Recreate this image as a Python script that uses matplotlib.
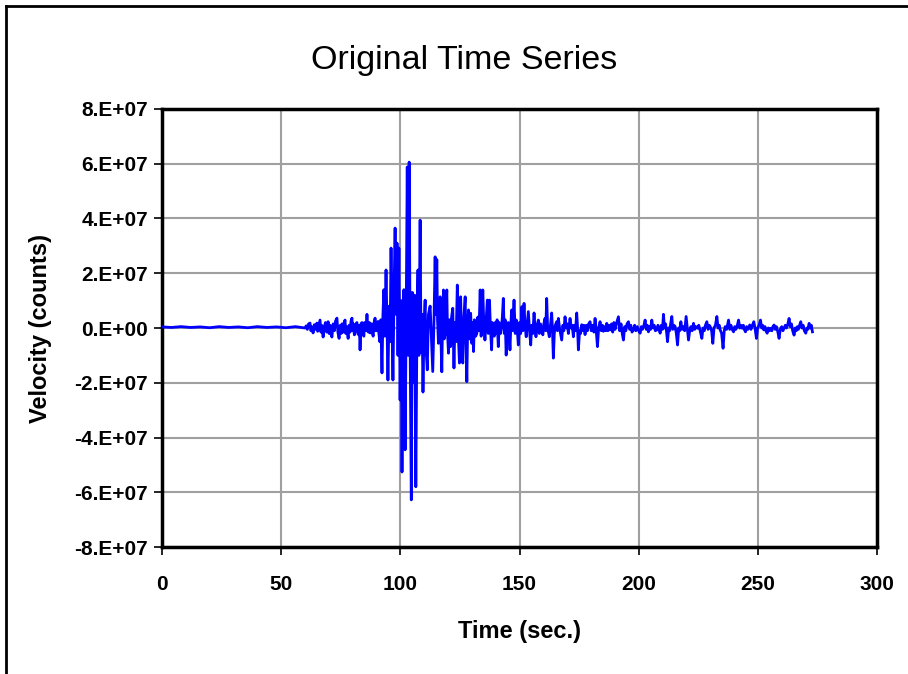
import matplotlib
matplotlib.use("Agg")
import matplotlib.pyplot as plt
from matplotlib.lines import Line2D

# ── data: (time s, velocity in 1e6 counts) ────────────────────────────────
quiet = [(0, 0.4), (4, 0.2), (8, 0.5), (12, 0.2), (16, 0.4), (20, 0.1), (24, 0.5),
         (28, 0.2), (32, 0.4), (36, 0.1), (40, 0.5), (44, 0.2), (48, 0.4),
         (52, 0.1), (56, 0.5)]

onset = [(60.0, 0.0), (60.5, 0.8), (61.0, -0.5), (61.5, 1.5), (62.1, 1.8), (62.5, -1.0),
         (62.8, 0.5), (63.4, -1.8), (63.9, 1.2), (64.5, -0.5), (65.0, 1.8), (65.3, -1.2),
         (65.8, 0.8), (66.3, 2.9), (66.7, -1.5), (67.0, 1.0), (67.6, -3.3), (68.1, 0.5),
         (68.6, 2.0), (69.1, -1.5), (69.7, 2.3), (70.1, -2.0), (70.5, 1.0), (71.0, -2.5),
         (71.3, -3.3), (71.8, 1.5), (72.3, -1.0), (72.8, 2.5), (73.4, 3.6), (73.8, -1.5),
         (74.3, -3.8), (74.8, 1.0), (75.2, -2.0), (75.5, 1.5), (76.0, -1.5), (76.4, 2.0),
         (76.8, 2.9), (77.1, -2.0), (77.4, 0.5), (78.1, -3.8), (78.5, 1.0), (78.9, -1.5),
         (79.3, 2.5), (79.7, 3.6), (80.0, -1.0), (80.3, 1.5), (80.7, -2.5), (81.0, -2.2),
         (81.4, 1.5), (81.8, 2.0), (82.1, -1.0), (82.5, -2.5), (82.8, 1.0), (83.1, -8.0),
         (83.5, 1.5), (83.9, 2.0), (84.3, -2.0), (84.7, -3.0), (85.0, 2.0), (85.3, 1.0),
         (85.7, -1.0), (86.0, 5.0), (86.3, -1.0), (86.6, -1.5), (87.0, 2.0), (87.3, -1.8),
         (87.7, 1.5), (88.0, 1.5), (88.3, -2.0), (88.6, -3.0), (89.0, 2.0), (89.4, 3.6),
         (89.7, -1.0), (90.0, -1.0), (90.3, 2.0), (90.6, 2.4), (91.0, -2.0), (91.4, -5.0),
         (91.8, 3.0)]

burst = [(92.3, -16.4), (92.7, 5.0), (93.1, 14.0), (93.5, -3.0), (94.0, 21.2), (94.4, 0.0),
         (94.8, -19.0), (95.3, 8.0), (95.7, -5.0), (96.1, 29.2), (96.5, 2.0), (96.9, -19.0),
         (97.4, 15.0), (97.8, 36.5), (98.2, 5.0), (98.6, 31.0), (99.0, -10.0), (99.4, 29.2),
         (99.9, -26.3), (100.3, 10.0), (100.7, -52.6), (101.1, 3.0), (101.5, 14.0),
         (102.0, -44.5), (102.5, 10.0), (102.9, 58.8), (103.3, -10.0), (103.7, 60.6),
         (104.1, -5.0), (104.6, -62.8), (105.0, 13.0), (105.5, -20.0), (106.0, 12.0),
         (106.5, -58.0), (107.0, 5.0), (107.4, 21.2), (107.8, -10.0), (108.3, 39.4),
         (108.7, -9.0), (109.1, 5.0), (109.5, -23.4), (110.0, 3.0), (110.4, 10.2),
         (110.8, -8.0), (111.3, -15.3), (111.8, 5.0), (112.5, 8.0)]

coda = [(113.6, -15.9), (114.1, 2.0), (114.6, 26.0), (114.9, 5.0), (115.3, 25.0), (115.6, 3.0),
        (116.0, -5.6), (116.3, 4.0), (116.7, 11.4), (117.0, -3.0), (117.4, -16.0), (117.7, 2.0),
        (118.1, 13.9), (118.4, -4.0), (118.8, -2.0), (119.1, 6.0), (119.5, 13.9), (119.8, -2.0),
        (120.2, -9.2), (120.6, 3.0), (121.1, -6.8), (121.5, 4.0), (122.0, 7.2), (122.5, -14.6),
        (122.9, 2.0), (123.4, -5.0), (123.9, 15.7), (124.3, -2.0), (124.8, -12.8), (125.3, 11.4),
        (125.7, -4.0), (126.2, -12.8), (126.6, 3.0), (127.2, 11.4), (127.5, -3.0), (127.9, -19.6),
        (128.2, -2.0), (128.6, 6.6), (129.0, -4.0), (129.5, 5.4), (130.0, -5.6), (130.3, 2.0),
        (130.7, -8.6), (131.1, 3.0), (131.6, -3.0), (132.1, -2.0), (132.5, 4.0), (133.0, -1.0),
        (133.5, 13.9), (133.9, -3.0), (134.2, 4.0), (134.6, 13.9), (135.0, 2.0), (135.5, -4.4),
        (136.0, 3.0), (136.5, 10.2), (136.9, -2.0), (137.4, 10.2), (137.8, 0.0), (138.3, -8.0),
        (138.6, 2.0), (139.0, 0.5), (139.4, -3.0), (139.8, 2.0), (140.2, -2.0), (140.6, 3.0),
        (141.1, -6.8), (141.5, 2.0), (142.0, -2.0), (142.5, 0.5), (142.8, 4.0), (143.2, 10.8),
        (143.6, -2.0), (144.0, 3.0), (144.4, -9.9), (144.8, -1.0), (145.3, 2.0), (145.7, -3.0),
        (146.0, -8.0), (146.4, 2.0), (146.7, 6.6), (147.1, -1.0), (147.7, 10.2), (148.2, -2.0),
        (148.7, 2.9), (149.1, -1.0), (149.5, -6.2), (150.0, 2.0), (150.5, -2.0), (151.0, 7.8),
        (151.4, -1.0), (151.9, 9.0), (152.3, 1.0), (152.8, -3.2), (153.2, 1.0), (153.7, 6.0),
        (154.2, -1.0), (154.7, -6.2), (155.1, 1.0), (155.6, -2.0), (156.1, 5.5), (156.5, 0.0),
        (156.9, -3.2), (157.4, 1.0), (157.9, 2.9), (158.3, -2.0), (158.8, 1.5), (159.3, -0.7),
        (159.8, -2.5), (160.2, 1.5), (160.7, 3.5), (161.0, -1.0), (161.4, 10.8), (161.8, 0.0),
        (162.5, -3.2), (163.0, 1.0), (163.5, 5.5), (163.8, 0.0), (164.2, -11.0), (164.6, -2.0),
        (165.0, 1.0), (165.6, 2.3), (165.9, -1.0), (166.3, 3.5), (166.8, 0.0), (167.2, -2.0),
        (167.7, -4.4), (168.2, 1.0), (168.6, -1.0), (169.1, 4.1), (169.6, 0.0), (170.1, 1.5),
        (170.5, -2.0), (170.9, 1.0), (171.2, 3.5), (171.7, 0.0), (172.1, 1.0), (172.6, -3.2),
        (173.0, 1.0), (173.5, -1.0), (174.0, 5.5), (174.3, 1.0), (174.7, -8.0), (175.2, -1.0),
        (175.6, -2.0), (176.1, 1.2), (176.6, -1.0), (177.0, 1.0), (177.5, -2.4), (178.0, 1.0),
        (178.5, -1.0), (179.0, 1.5), (179.6, 2.3), (180.1, -1.0), (180.6, 1.0), (181.2, -1.5),
        (181.7, 3.5), (182.2, -1.0), (182.7, -6.8), (183.2, 0.0), (183.8, 2.3), (184.3, -1.0),
        (184.8, 1.0), (185.2, -1.2), (185.7, 0.5), (186.2, -1.0), (186.6, 1.7), (187.1, -1.0),
        (187.5, 1.0), (188.0, -0.7), (188.6, 1.5), (189.1, -1.5), (189.6, 2.0), (190.1, -0.5),
        (190.6, 1.5)]

tail = [(191.5, 4.1), (192.0, -1.0), (192.6, 1.5), (193.1, -2.0), (193.6, -4.4), (194.1, 0.5),
        (194.6, -1.0), (195.1, 1.5), (195.7, 2.3), (196.2, -0.5), (196.7, 1.0), (197.2, -1.5),
        (197.8, -0.7), (198.3, 1.0), (198.8, -1.0), (199.4, 0.5), (200.0, -1.0), (200.6, -1.9),
        (201.1, 0.5), (201.6, -0.5), (202.2, 1.0), (202.7, 2.9), (203.2, -0.5), (203.6, 1.0),
        (204.1, -1.4), (204.6, 0.5), (205.0, -0.5), (205.5, 2.9), (206.0, 0.0), (206.5, 1.0),
        (207.0, -1.0), (207.6, -0.7), (208.1, 1.0), (208.5, -0.5), (209.0, -1.9), (209.5, 1.0),
        (210.0, -0.5), (210.4, 5.0), (210.8, 0.0), (211.3, 1.5), (211.7, -1.5), (212.1, -5.0),
        (212.6, 0.0), (213.0, -1.0), (213.4, 1.5), (213.9, 4.2), (214.3, -0.5), (214.8, 1.0),
        (215.3, 0.5), (215.8, -2.0), (216.3, -6.2), (216.8, 0.0), (217.2, -1.0), (217.7, 2.3),
        (218.2, -0.5), (218.8, 0.5), (219.3, -1.0), (219.9, 4.2), (220.4, 0.0), (220.9, -4.4),
        (221.4, -1.0), (221.9, 0.5), (222.4, -1.0), (223.0, 1.7), (223.5, -0.5), (224.0, 0.5),
        (224.7, -0.1), (225.2, 1.0), (225.8, -1.0), (226.5, -3.8), (227.0, 0.0), (227.5, -1.0),
        (228.0, 1.0), (228.6, 2.3), (229.1, -0.5), (229.6, 1.0), (230.0, 0.5), (230.6, -1.0),
        (231.1, -5.6), (231.6, 0.0), (232.2, 1.0), (232.8, 4.2), (233.3, 0.0), (233.8, 1.0),
        (234.2, -0.7), (234.8, -2.0), (235.4, -7.4), (235.9, -1.0), (236.3, 0.5), (236.9, -0.5),
        (237.7, 2.9), (238.2, -0.5), (238.7, 1.0), (239.2, -0.5), (239.8, -1.4), (240.3, 0.5),
        (240.8, -0.5), (241.4, 1.0), (241.9, 2.9), (242.4, 0.0), (242.9, 1.0), (243.4, -0.1),
        (243.9, 1.0), (244.3, -0.5), (244.8, -1.4), (245.3, 0.5), (245.8, -0.5), (246.6, 1.1),
        (247.1, -0.5), (247.7, 1.0), (248.3, 2.3), (248.8, 0.0), (249.4, -3.8), (249.9, 0.0),
        (250.5, 1.0), (251.1, 2.9), (251.6, 0.0), (252.0, 1.0), (252.5, -0.7), (253.0, 0.5),
        (253.4, -1.0), (253.9, -1.9), (254.4, 0.0), (254.9, -1.0), (255.4, -0.1), (255.9, -1.0),
        (256.3, 0.5), (256.8, 1.1), (257.3, -0.5), (257.8, 0.5), (258.4, -1.5), (258.9, -3.8),
        (259.4, -0.5), (260.0, 0.5), (260.5, -1.0), (261.0, -0.1), (261.5, 1.0), (262.0, 0.0),
        (262.6, 1.5), (263.1, 3.5), (263.6, 0.5), (264.1, 1.5), (264.6, -1.0), (265.2, -2.6),
        (265.7, 0.0), (266.1, -1.0), (266.6, 0.5), (267.0, -0.5), (267.5, 1.0), (268.0, 2.3),
        (268.5, 0.0), (269.0, 1.0), (269.5, -1.0), (270.1, -1.9), (270.6, 0.0), (271.0, -0.5),
        (271.5, 1.7), (272.0, 0.0), (272.4, 1.0), (272.9, -1.4)]

x_ticks = [0, 50, 100, 150, 200, 250, 300]
y_ticks = [-8e7, -6e7, -4e7, -2e7, 0, 2e7, 4e7, 6e7, 8e7]
y_labels = ["-8.E+07", "-6.E+07", "-4.E+07", "-2.E+07", "0.E+00",
            "2.E+07", "4.E+07", "6.E+07", "8.E+07"]

samples = quiet + onset + burst + coda + tail
time_s = [p[0] for p in samples]
velocity = [p[1] * 1e6 for p in samples]

plt.rcParams["font.family"] = ["Liberation Sans", "DejaVu Sans"]

fig = plt.figure(figsize=(9.08, 6.74), dpi=100)
ax = fig.add_axes([0.1784, 0.1884, 0.7875, 0.6499])

ax.plot(time_s, velocity, color="#0000ff", linewidth=2.0, zorder=3)

ax.set_xlim(0, 300)
ax.set_ylim(-8e7, 8e7)
ax.set_xticks(x_ticks)
ax.set_xticklabels([str(t) for t in x_ticks])
ax.set_yticks(y_ticks)
ax.set_yticklabels(y_labels)
ax.grid(True, color="#a0a0a0", linewidth=1.5)
ax.tick_params(direction="out", length=6, width=1.2, colors="black",
               labelsize=15, pad=4)
ax.tick_params(axis="x", pad=14)
for lab in ax.get_xticklabels() + ax.get_yticklabels():
    lab.set_fontweight("bold")
for sp in ax.spines.values():
    sp.set_linewidth(2.5)
    sp.set_color("black")

ax.set_xlabel("Time (sec.)", fontsize=17, fontweight="bold", labelpad=19)
ax.set_ylabel("Velocity (counts)", fontsize=17, fontweight="bold", labelpad=16)
fig.text(0.511, 0.910, "Original Time Series", fontsize=24.5, ha="center", va="center")

# outer chart frame: only its left and top edges fall inside the picture
fig.lines.append(Line2D([6 / 908, 6 / 908], [0, 668 / 674], transform=fig.transFigure,
                        color="black", linewidth=2))
fig.lines.append(Line2D([6 / 908, 1], [668 / 674, 668 / 674], transform=fig.transFigure,
                        color="black", linewidth=2))

fig.savefig("out.png", dpi=100)
